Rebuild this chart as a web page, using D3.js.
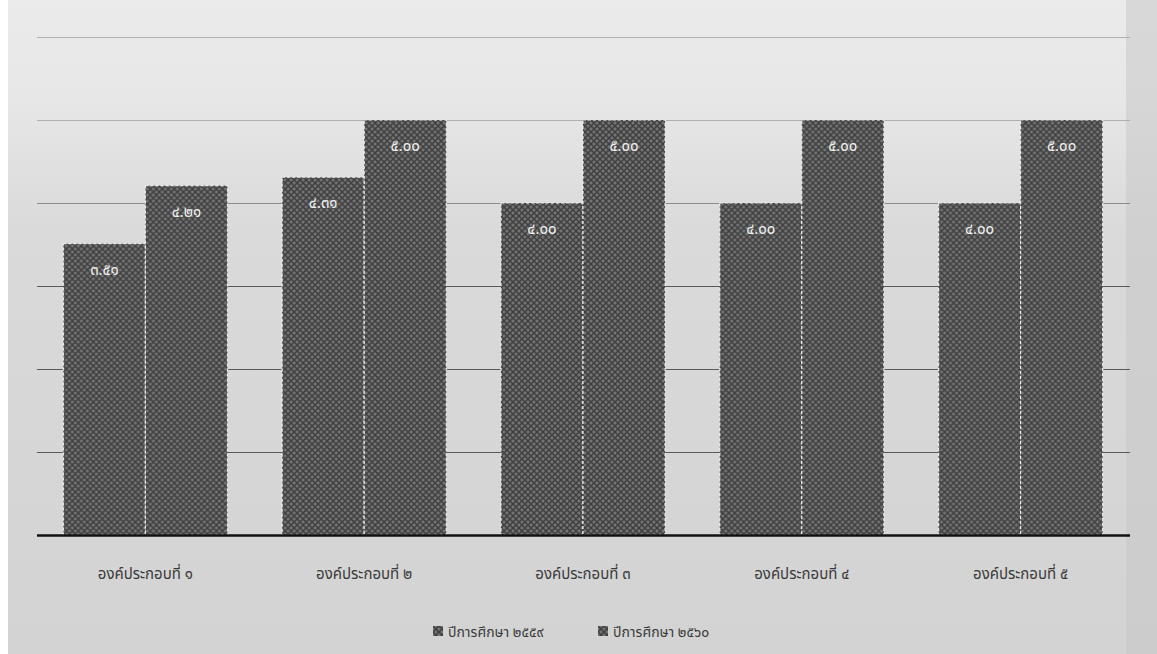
<!DOCTYPE html>
<html>
<head>
<meta charset="utf-8">
<script src="https://cdn.jsdelivr.net/npm/d3@7"></script>
<style>
  body { margin: 0; background: #fff; }
  text { font-family: "Noto Sans Thai", "Norasi", "Loma", "Garuda", "DejaVu Sans", sans-serif; }
</style>
</head>
<body>
<svg id="chart" width="1157" height="654"></svg>
<script>
// data
var categories = ["องค์ประกอบที่ ๑", "องค์ประกอบที่ ๒", "องค์ประกอบที่ ๓", "องค์ประกอบที่ ๔", "องค์ประกอบที่ ๕"];
var seriesNames = ["ปีการศึกษา ๒๕๕๙", "ปีการศึกษา ๒๕๖๐"];
var year2559 = [3.51, 4.31, 4.00, 4.00, 4.00];
var year2560 = [4.21, 5.00, 5.00, 5.00, 5.00];
var gridTicks = [1, 2, 3, 4, 5, 6];

var thaiDigits = "๐๑๒๓๔๕๖๗๘๙";
var toThai = function (s)
{
    return s.replace(/[0-9]/g, function (d) { return thaiDigits[+d]; });
}

var svg = d3.select("#chart");
var defs = svg.append("defs");

// scanned paper background
var bg = defs.append("linearGradient").attr("id", "bgGrad")
    .attr("x1", 0).attr("y1", 0).attr("x2", 0).attr("y2", 1);
bg.append("stop").attr("offset", "0%").attr("stop-color", "#ebebeb");
bg.append("stop").attr("offset", "15%").attr("stop-color", "#e7e7e7");
bg.append("stop").attr("offset", "35%").attr("stop-color", "#dadada");
bg.append("stop").attr("offset", "100%").attr("stop-color", "#d3d3d3");

// crosshatch fill of the bars
var hatch = defs.append("pattern").attr("id", "hatch")
    .attr("patternUnits", "userSpaceOnUse")
    .attr("width", 6).attr("height", 6);
hatch.append("rect").attr("width", 6).attr("height", 6).attr("fill", "#747474");
hatch.append("path").attr("d", "M0,0 L6,6 M-3,3 L3,9 M3,-3 L9,3")
    .attr("stroke", "#3f3f3f").attr("stroke-width", 1.5);
hatch.append("path").attr("d", "M0,6 L6,0 M-3,3 L3,-3 M3,9 L9,3")
    .attr("stroke", "#3f3f3f").attr("stroke-width", 1.5);

svg.append("rect")
    .attr("x", 8).attr("y", 0)
    .attr("width", 1149).attr("height", 654)
    .attr("fill", "url(#bgGrad)");
svg.append("rect")
    .attr("x", 1126).attr("y", 0)
    .attr("width", 31).attr("height", 654)
    .attr("fill", "#c6c6c6").attr("opacity", 0.5);

// scales
var x0 = d3.scaleBand()
    .domain(categories)
    .range([36, 1130])
    .paddingInner(0.25)
    .paddingOuter(0.125);

var x1 = d3.scaleBand()
    .domain([0, 1])
    .range([0, x0.bandwidth()]);

var y = d3.scaleLinear()
    .domain([0, 6])
    .range([535, 37]);

// gridlines
svg.append("g").selectAll("line")
    .data(gridTicks)
    .enter().append("line")
    .attr("x1", 37).attr("x2", 1130)
    .attr("y1", function (d) { return Math.round(y(d)) + 0.5; })
    .attr("y2", function (d) { return Math.round(y(d)) + 0.5; })
    .attr("stroke", function (d) { return d >= 5 ? "#b0b0b0" : (d == 4 ? "#8c8c8c" : "#5a5a5a"); })
    .attr("stroke-width", 1);

// bars
var groups = svg.append("g").selectAll("g")
    .data(categories)
    .enter().append("g")
    .attr("transform", function (d) { return "translate(" + x0(d) + ",0)"; });

var bars = groups.selectAll("g")
    .data(function (d, i) { return [year2559[i], year2560[i]]; })
    .enter().append("g");

bars.append("rect")
    .attr("x", function (d, j) { return x1(j); })
    .attr("y", function (d) { return y(d); })
    .attr("width", x1.bandwidth())
    .attr("height", function (d) { return y(0) - y(d); })
    .attr("fill", "url(#hatch)")
    .attr("stroke", "#ececec")
    .attr("stroke-width", 1.2)
    .attr("stroke-dasharray", "3,2");

bars.append("text")
    .attr("x", function (d, j) { return x1(j) + x1.bandwidth() / 2; })
    .attr("y", function (d) { return y(d) + 31; })
    .attr("text-anchor", "middle")
    .attr("font-size", 15)
    .attr("fill", "#f0f0f0")
    .text(function (d) { return toThai(d3.format(".2f")(d)); });

// x axis line
svg.append("line")
    .attr("x1", 37).attr("x2", 1130)
    .attr("y1", 535.5).attr("y2", 535.5)
    .attr("stroke", "#111")
    .attr("stroke-width", 2.5);

// category labels
svg.append("g").selectAll("text")
    .data(categories)
    .enter().append("text")
    .attr("x", function (d) { return x0(d) + x0.bandwidth() / 2; })
    .attr("y", 579)
    .attr("text-anchor", "middle")
    .attr("font-size", 15)
    .attr("fill", "#3a3a3a")
    .text(function (d) { return d; });

// legend
var legendX = [433, 598];
var legend = svg.append("g").selectAll("g")
    .data(seriesNames)
    .enter().append("g")
    .attr("transform", function (d, i) { return "translate(" + legendX[i] + ",632)"; });

legend.append("rect")
    .attr("x", 0).attr("y", -6)
    .attr("width", 10).attr("height", 10)
    .attr("fill", "url(#hatch)");

legend.append("text")
    .attr("x", 15).attr("y", 5)
    .attr("font-size", 14)
    .attr("fill", "#3a3a3a")
    .text(function (d) { return d; });
</script>
</body>
</html>
